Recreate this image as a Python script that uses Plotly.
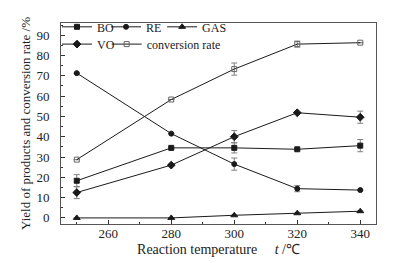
import plotly.graph_objects as go

temps = [250, 280, 300, 320, 340]
bo = [18.3, 34.5, 34.5, 33.8, 35.6]
bo_err = [3.0, 0.0, 2.5, 0.0, 3.0]
re = [71.3, 41.5, 26.5, 14.4, 13.7]
re_err = [0.0, 0.0, 3.0, 1.5, 0.0]
gas = [0.0, 0.0, 1.3, 2.3, 3.3]
gas_err = [0.0, 0.0, 0.0, 0.0, 0.0]
vo = [12.5, 26.0, 40.0, 51.8, 49.6]
vo_err = [3.0, 0.0, 3.0, 0.0, 3.0]
conv = [28.7, 58.3, 73.3, 85.6, 86.3]
conv_err = [0.0, 0.0, 3.0, 1.5, 0.0]

xticks = [260, 280, 300, 320, 340]
yticks = [0, 10, 20, 30, 40, 50, 60, 70, 80, 90]

font_family = "Liberation Serif"
line_col = "#1a1a1a"
err_col = "#808080"

series = [
    ("BO", bo, bo_err, "square", 5, "legend"),
    ("RE", re, re_err, "circle", 5, "legend2"),
    ("GAS", gas, gas_err, "triangle-up", 6, "legend3"),
    ("VO", vo, vo_err, "diamond", 6, "legend4"),
    ("conversion rate", conv, conv_err, "square-open", 5, "legend5"),
]

fig = go.Figure()
for name, vals, errs, sym, msize, leg in series:
    mcol = "#666666" if sym == "square-open" else line_col
    fig.add_trace(go.Scatter(
        x=temps, y=vals, name=name, mode="lines+markers",
        line=dict(color=line_col, width=1),
        marker=dict(symbol=sym, size=msize, color=mcol,
                    line=dict(width=1, color=mcol)),
        error_y=dict(type="data", array=errs, visible=True,
                     color=err_col, thickness=1, width=3),
        legend=leg,
    ))

axis_common = dict(
    showline=True, linecolor="#555555", linewidth=1, mirror=True,
    ticks="inside", ticklen=4, tickcolor="#333333", tickwidth=1,
    showgrid=False, zeroline=False, automargin=False,
    tickfont=dict(family=font_family, size=13, color="#222222"),
)

fig.update_xaxes(
    range=[245, 345], tickvals=xticks,
    minor=dict(ticks="inside", ticklen=2, dtick=10, tick0=250, tickcolor="#333333"),
    ticklabelstandoff=-3,
    title=dict(text="Reaction temperature&nbsp;&nbsp;&nbsp;&nbsp;&nbsp;<i>t</i> /℃",
               font=dict(family=font_family, size=14, color="#222222"), standoff=4),
    **axis_common,
)
fig.update_yaxes(
    range=[-3, 96], tickvals=yticks,
    minor=dict(ticks="inside", ticklen=2, dtick=5, tick0=0, tickcolor="#333333"),
    ticklabelstandoff=8,
    title=dict(text="Yield of products and conversion rate /%",
               font=dict(family=font_family, size=13, color="#222222"), standoff=2),
    **axis_common,
)

def leg(x, y):
    return dict(
        orientation="h", xanchor="left", yanchor="middle", x=x, y=y,
        bgcolor="rgba(0,0,0,0)", borderwidth=0,
        font=dict(family=font_family, size=12, color="#222222"),
        itemwidth=30,
    )

row1 = 0.981
row2 = 0.895
fig.update_layout(
    width=393, height=263,
    margin=dict(l=61, r=17, t=16, b=39),
    paper_bgcolor="white", plot_bgcolor="white",
    showlegend=True,
    legend=leg(-0.0127, row1),
    legend2=leg(0.143, row1),
    legend3=leg(0.321, row1),
    legend4=leg(-0.0127, row2),
    legend5=leg(0.145, row2),
)

fig.write_html(
    "out.html",
    config={"displayModeBar": False},
    post_script="document.body.style.margin='0';document.body.style.overflow='hidden';",
)
